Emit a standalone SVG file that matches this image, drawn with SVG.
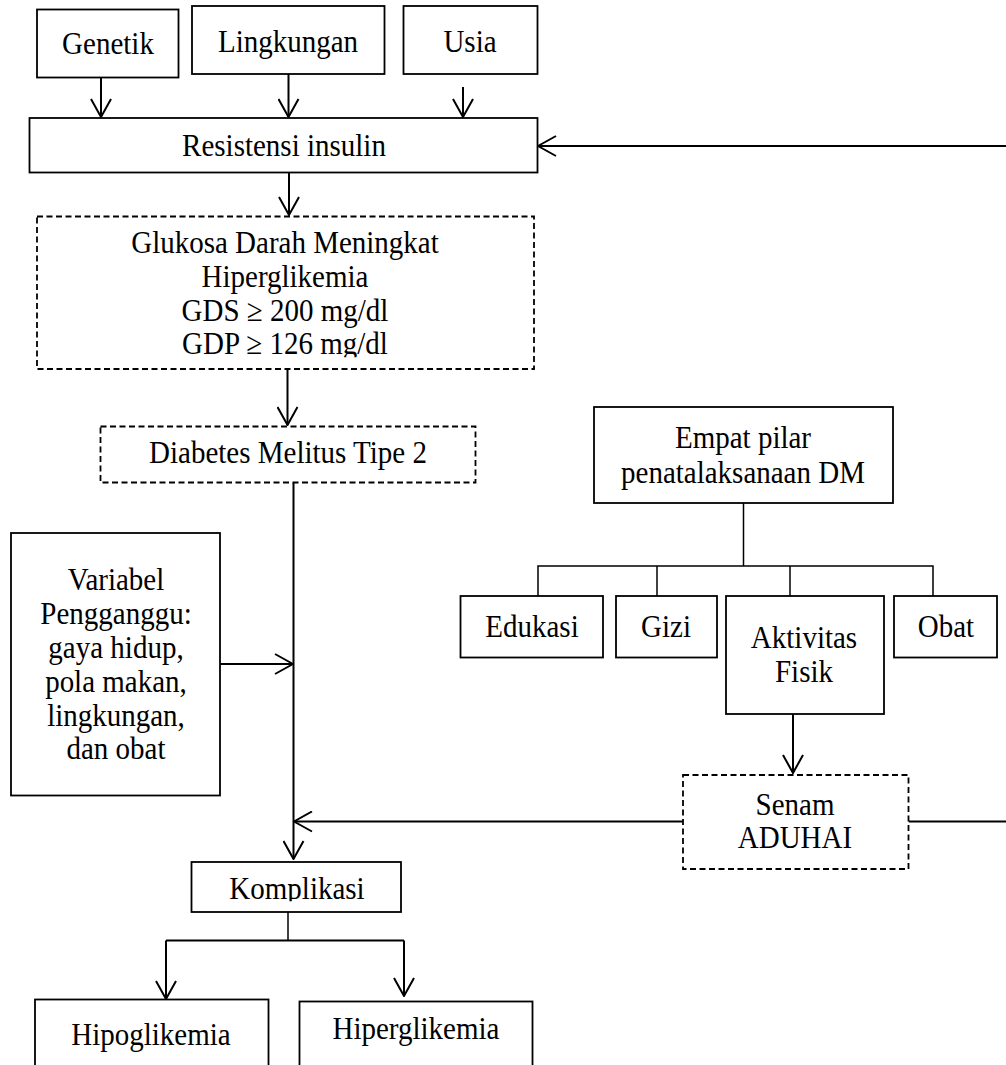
<svg xmlns="http://www.w3.org/2000/svg" width="1006" height="1065" viewBox="0 0 1006 1065">
<style>
.box{fill:#fff;stroke:#000;stroke-width:1.8}
.dash{fill:#fff;stroke:#000;stroke-width:1.8;stroke-dasharray:6 3.5}
.t{font-family:"Liberation Serif","Times New Roman",serif;font-size:29px;fill:#000;text-anchor:middle}
.c{fill:none;stroke:#000;stroke-width:2}
.thin{fill:none;stroke:#000;stroke-width:1.5}
</style>
<defs>
<marker id="arr" markerUnits="userSpaceOnUse" viewBox="0 0 20 22" markerWidth="20" markerHeight="22" refX="19" refY="11" orient="auto">
<path d="M1,1 L19,11 L1,21" fill="none" stroke="#000" stroke-width="2"/>
</marker>
<clipPath id="clipGDP" clipPathUnits="userSpaceOnUse"><rect x="0" y="330" width="600" height="27"/></clipPath>
<clipPath id="clipKomp" clipPathUnits="userSpaceOnUse"><rect x="190" y="865" width="215" height="36"/></clipPath>
</defs>
<rect width="1006" height="1065" fill="#fff"/>

<g id="connectors">
<line class="c" x1="101" y1="77.5" x2="101" y2="117" marker-end="url(#arr)"/>
<line class="c" x1="288.5" y1="74" x2="288.5" y2="117" marker-end="url(#arr)"/>
<line class="c" x1="463" y1="87" x2="463" y2="117" marker-end="url(#arr)"/>
<line class="c" x1="1006" y1="146" x2="538" y2="146" marker-end="url(#arr)"/>
<line class="c" x1="289" y1="172.5" x2="289" y2="215" marker-end="url(#arr)"/>
<line class="c" x1="287.5" y1="369" x2="287.5" y2="425" marker-end="url(#arr)"/>
<line class="c" x1="293.5" y1="482.5" x2="293.5" y2="859" marker-end="url(#arr)"/>
<line class="c" x1="220" y1="664" x2="293" y2="664" marker-end="url(#arr)"/>
<line class="c" x1="683" y1="821.5" x2="294" y2="821.5" marker-end="url(#arr)"/>
<line class="c" x1="908.5" y1="821.5" x2="1006" y2="821.5"/>
<line class="thin" x1="743.5" y1="503" x2="743.5" y2="566"/>
<polyline class="thin" points="538,596 538,566 933,566 933,596"/>
<line class="thin" x1="657" y1="566" x2="657" y2="596"/>
<line class="thin" x1="790" y1="566" x2="790" y2="596"/>
<line class="c" x1="793" y1="714" x2="793" y2="773" marker-end="url(#arr)"/>
<line class="thin" x1="288" y1="912" x2="288" y2="940.5"/>
<line class="c" x1="166" y1="940.5" x2="404" y2="940.5"/>
<line class="c" x1="166" y1="940.5" x2="166" y2="999" marker-end="url(#arr)"/>
<line class="c" x1="404" y1="940.5" x2="404" y2="996" marker-end="url(#arr)"/>
</g>

<g id="genetik">
<rect class="box" x="37" y="9.5" width="141.5" height="68"/>
<text class="t" x="108" y="54" transform="matrix(1 0 0 1.09 0 -4.86)">Genetik</text>
</g>
<g id="lingkungan">
<rect class="box" x="192" y="6" width="192.5" height="68"/>
<text class="t" x="288" y="52" transform="matrix(1 0 0 1.09 0 -4.68)">Lingkungan</text>
</g>
<g id="usia">
<rect class="box" x="403.5" y="6" width="134" height="68"/>
<text class="t" x="470" y="52" transform="matrix(1 0 0 1.09 0 -4.68)">Usia</text>
</g>
<g id="resistensi">
<rect class="box" x="29.5" y="118" width="508" height="54.5"/>
<text class="t" x="284" y="156" transform="matrix(1 0 0 1.09 0 -14.04)">Resistensi insulin</text>
</g>
<g id="glukosa">
<rect class="dash" x="37" y="216.5" width="497" height="152.5"/>
<text class="t" x="285" y="253" transform="matrix(1 0 0 1.09 0 -22.77)">Glukosa Darah Meningkat</text>
<text class="t" x="285" y="287" transform="matrix(1 0 0 1.09 0 -25.83)">Hiperglikemia</text>
<text class="t" x="285" y="321" transform="matrix(1 0 0 1.09 0 -28.89)">GDS ≥ 200 mg/dl</text>
<text class="t" x="285" y="354" transform="matrix(1 0 0 1.09 0 -31.86)" clip-path="url(#clipGDP)">GDP ≥ 126 mg/dl</text>
</g>
<g id="dm">
<rect class="dash" x="100.5" y="426.5" width="375" height="56"/>
<text class="t" x="288" y="463" transform="matrix(1 0 0 1.09 0 -41.67)">Diabetes Melitus Tipe 2</text>
</g>
<g id="empat-pilar">
<rect class="box" x="594" y="407" width="299" height="96"/>
<text class="t" x="743" y="448" transform="matrix(1 0 0 1.09 0 -40.32)">Empat pilar</text>
<text class="t" x="743" y="483" transform="matrix(1 0 0 1.09 0 -43.47)">penatalaksanaan DM</text>
</g>
<g id="edukasi">
<rect class="box" x="460.5" y="596" width="142.5" height="61.5"/>
<text class="t" x="532" y="637" transform="matrix(1 0 0 1.09 0 -57.33)">Edukasi</text>
</g>
<g id="gizi">
<rect class="box" x="616" y="596" width="101" height="61.5"/>
<text class="t" x="666" y="637" transform="matrix(1 0 0 1.09 0 -57.33)">Gizi</text>
</g>
<g id="aktivitas">
<rect class="box" x="726" y="596" width="158" height="118"/>
<text class="t" x="804" y="648" transform="matrix(1 0 0 1.09 0 -58.32)">Aktivitas</text>
<text class="t" x="804" y="682" transform="matrix(1 0 0 1.09 0 -61.38)">Fisik</text>
</g>
<g id="obat">
<rect class="box" x="894" y="596" width="103" height="61.5"/>
<text class="t" x="946" y="637" transform="matrix(1 0 0 1.09 0 -57.33)">Obat</text>
</g>
<g id="variabel">
<rect class="box" x="11" y="533" width="209" height="262.5"/>
<text class="t" x="116" y="590" transform="matrix(1 0 0 1.09 0 -53.1)">Variabel</text>
<text class="t" x="116" y="624" transform="matrix(1 0 0 1.09 0 -56.16)">Pengganggu:</text>
<text class="t" x="116" y="658" transform="matrix(1 0 0 1.09 0 -59.22)">gaya hidup,</text>
<text class="t" x="116" y="692" transform="matrix(1 0 0 1.09 0 -62.28)">pola makan,</text>
<text class="t" x="116" y="726" transform="matrix(1 0 0 1.09 0 -65.34)">lingkungan,</text>
<text class="t" x="116" y="759" transform="matrix(1 0 0 1.09 0 -68.31)">dan obat</text>
</g>
<g id="senam">
<rect class="dash" x="683" y="775" width="225.5" height="94"/>
<text class="t" x="795" y="815" transform="matrix(1 0 0 1.09 0 -73.35)">Senam</text>
<text class="t" x="795" y="848" transform="matrix(1 0 0 1.09 0 -76.32)">ADUHAI</text>
</g>
<g id="komplikasi">
<rect class="box" x="191.5" y="862" width="209.5" height="50"/>
<text class="t" x="297" y="899" transform="matrix(1 0 0 1.09 0 -80.91)" clip-path="url(#clipKomp)">Komplikasi</text>
</g>
<g id="hipoglikemia">
<rect class="box" x="35" y="999.5" width="233.5" height="75"/>
<text class="t" x="151" y="1045" transform="matrix(1 0 0 1.09 0 -94.05)">Hipoglikemia</text>
</g>
<g id="hiperglikemia">
<rect class="box" x="299.5" y="1001.5" width="233" height="73"/>
<text class="t" x="416" y="1039" transform="matrix(1 0 0 1.09 0 -93.51)">Hiperglikemia</text>
</g>
</svg>
